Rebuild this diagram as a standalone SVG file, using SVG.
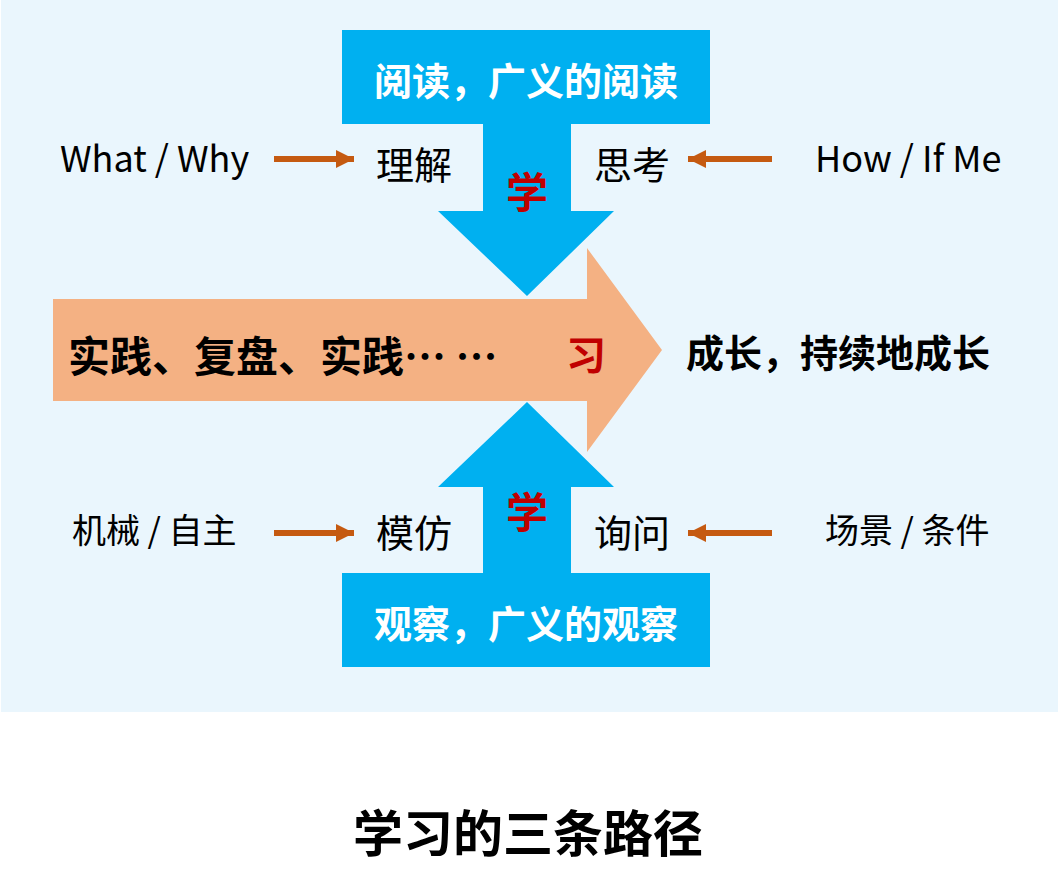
<svg xmlns="http://www.w3.org/2000/svg" width="1058" height="889" viewBox="0 0 1058 889">
<style>
.t{font-family:"Noto Sans CJK SC","Noto Sans",sans-serif;}
.b{font-weight:700;}
.k{fill:#000;}
.w{fill:#fff;}
.r{fill:#C00000;}
.blue{fill:#00B0F0;}
.or{fill:#F4B183;}
.c{text-anchor:middle;dominant-baseline:central;}
.m{dominant-baseline:central;}
.ln{stroke:#C55A11;stroke-width:6;fill:none;}
</style>
<defs>
<marker id="ah" viewBox="0 0 10 10" refX="10" refY="5" markerWidth="3.2" markerHeight="3" orient="auto" markerUnits="strokeWidth">
<path d="M0,0 L10,5 L0,10 z" fill="#C55A11"/>
</marker>
</defs>
<rect x="1" y="0" width="1057" height="712" fill="#EAF6FD"/>

<g id="top-arrow">
<polygon class="blue" points="483,123 571,123 571,211 614,211 527,296 438,211 483,211"/>
<text class="t b r c" x="527" y="189" font-size="42">学</text>
</g>
<g id="top-box">
<rect class="blue" x="342" y="30" width="368" height="94"/>
<text class="t b w c" x="526" y="78" font-size="38">阅读，广义的阅读</text>
</g>

<g id="bottom-arrow">
<polygon class="blue" points="527,402 614,487 571,487 571,574 483,574 483,487 438,487"/>
<text class="t b r c" x="527" y="509" font-size="42">学</text>
</g>
<g id="bottom-box">
<rect class="blue" x="342" y="573" width="368" height="94"/>
<text class="t b w c" x="526" y="621" font-size="38">观察，广义的观察</text>
</g>

<g id="main-arrow">
<polygon class="or" points="53,299 587,299 587,248 662,350 587,452 587,401 53,401"/>
<text class="t b k m" x="68" y="353" font-size="42">实践、复盘、实践… …</text>
<text class="t b r c" x="586" y="353" font-size="40">习</text>
</g>

<g id="growth">
<text class="t b k m" x="686" y="350" font-size="38">成长，持续地成长</text>
</g>

<g id="label-understand"><text class="t k c" x="414" y="162" font-size="38">理解</text></g>
<g id="label-think"><text class="t k c" x="632" y="162" font-size="38">思考</text></g>
<g id="label-imitate"><text class="t k c" x="414" y="530" font-size="38">模仿</text></g>
<g id="label-ask"><text class="t k c" x="632" y="530" font-size="38">询问</text></g>

<g id="label-what"><text class="t k" x="60" y="172" font-size="36">What / Why</text></g>
<g id="label-how"><text class="t k" x="815" y="172" font-size="36">How / If Me</text></g>
<g id="label-mech"><text class="t k m" x="72" y="528" font-size="34">机械 / 自主</text></g>
<g id="label-scene"><text class="t k m" x="825" y="528" font-size="34">场景 / 条件</text></g>

<g id="connectors">
<line class="ln" x1="274" y1="159" x2="354" y2="159" marker-end="url(#ah)"/>
<line class="ln" x1="772" y1="159" x2="688" y2="159" marker-end="url(#ah)"/>
<line class="ln" x1="274" y1="533" x2="354" y2="533" marker-end="url(#ah)"/>
<line class="ln" x1="772" y1="533" x2="688" y2="533" marker-end="url(#ah)"/>
</g>

<g id="title"><text class="t b k c" x="528" y="830" font-size="50">学习的三条路径</text></g>
</svg>
